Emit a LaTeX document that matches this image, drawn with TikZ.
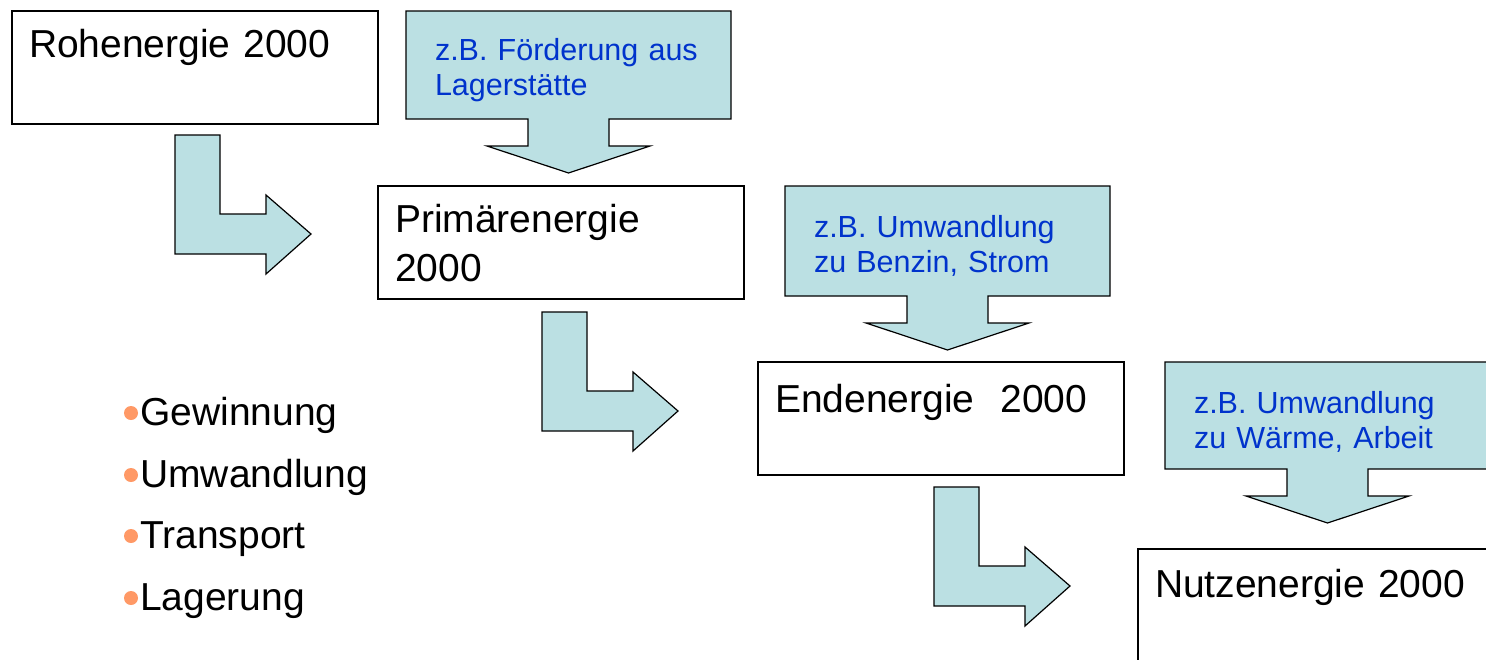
\documentclass[tikz,border=0pt]{standalone}
\usepackage{fontspec}
\setmainfont{Liberation Sans}
\usetikzlibrary{backgrounds}
\definecolor{flowfill}{RGB}{187,224,227}
\definecolor{hintblue}{RGB}{0,51,204}
\definecolor{dotorange}{RGB}{255,153,102}

\begin{document}
\begin{tikzpicture}
      [x=1pt, y=1pt,
       energy box/.style={draw, line width=1.4pt, anchor=north west, outer sep=0pt,
         inner ysep=0pt, inner xsep=17pt, text width=332pt, align=left,
         text height=46pt, text depth=67pt, font=\fontsize{39}{49}\selectfont},
       hint box/.style={anchor=north west, outer sep=0pt, inner ysep=0pt, inner xsep=29pt,
         text width=267pt, align=left, text height=49pt, text depth=59pt,
         text=hintblue, font=\fontsize{30.5}{35.5}\selectfont},
       flow/.style={fill=flowfill, draw, line width=1.2pt, line join=miter},
       item/.style={anchor=base west, inner sep=0pt, font=\fontsize{39}{47}\selectfont},
       bulletdot/.style={fill=dotorange}]
      \useasboundingbox (0,0) rectangle (1486,-659);

      % energy stages
      \node[energy box] (roh) at (12,-11) {Rohenergie 2000};
      \node[energy box] (prim) at (378,-186) {Primärenergie\\2000};
      \node[energy box, text height=50pt, text depth=63pt] (end) at (758,-362) {Endenergie\ \ 2000};
      \node[energy box, text height=48pt, text depth=65pt] (nutz) at (1138,-549) {Nutzenergie 2000};

      % examples
      \node[hint box] (hint1) at (406,-11) {z.B. Förderung aus\\Lagerstätte};
      \node[hint box, text height=51pt] (hint2) at (785,-186) {z.B. Umwandlung\\zu Benzin, Strom};
      \node[hint box, text height=51pt, text depth=56pt] (hint3) at (1165,-362) {z.B. Umwandlung\\zu Wärme, Arbeit};

      \begin{pgfonlayer}{background}
        \foreach \h in {hint1,hint2,hint3}
          \filldraw[flow] (\h.north west) -- (\h.north east) -- (\h.south east)
            -- ([xshift=40.5pt]\h.south) -- ++(0,-27) -- ++(41,0) -- ([yshift=-54pt]\h.south)
            -- ++(-81.5,27) -- ++(41,0) -- ++(0,27) -- (\h.south west) -- cycle;
      \end{pgfonlayer}

      % steps between stages
      \coordinate (turn1) at (175,-135);
      \coordinate (turn2) at (542,-312);
      \coordinate (turn3) at (934,-487);
      \foreach \t in {turn1,turn2,turn3}
        \filldraw[flow] (\t) -- ++(45,0) -- ++(0,-79) -- ++(46,0) -- ++(0,19)
          -- ++(45,-39) -- ++(-45,-40) -- ++(0,20) -- ++(-91,0) -- cycle;

      % list
      \node[item] (gew) at (140,-425) {Gewinnung};
      \node[item] (umw) at (140,-487) {Umwandlung};
      \node[item] (tra) at (140,-548) {Transport};
      \node[item] (lag) at (140,-610) {Lagerung};
      \foreach \i in {gew,umw,tra,lag}
        \fill[bulletdot] ([xshift=-9pt,yshift=12pt]\i.base west) circle (7pt);
   \end{tikzpicture}
\end{document}
